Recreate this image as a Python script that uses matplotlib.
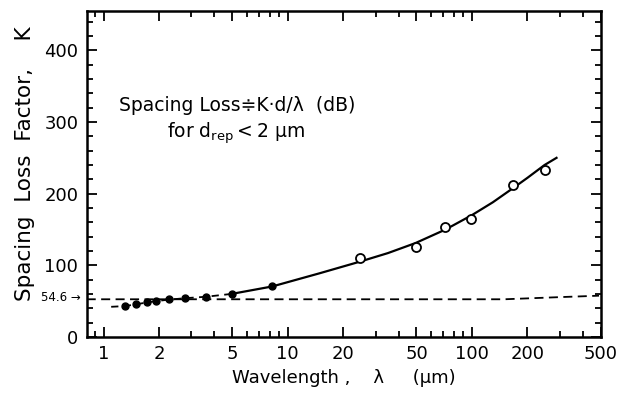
import numpy as np
import matplotlib
matplotlib.use("Agg")
import matplotlib.pyplot as plt
from matplotlib.ticker import LogLocator, NullFormatter, MultipleLocator

# measured points (filled = short wavelengths, open = long wavelengths)
lam_filled = [1.31, 1.50, 1.72, 1.93, 2.27, 2.77, 3.59, 4.96, 8.24]
k_filled = [43.0, 45.7, 48.1, 50.3, 52.3, 54.5, 55.5, 60.1, 70.4]
lam_open = [24.7, 49.4, 71.8, 99.3, 168, 248]
k_open = [109.5, 124.8, 153.6, 165.0, 212.5, 233.0]

# fitted curve
lam_fit_dash = [1.1, 1.31, 1.5, 1.72, 1.93, 2.27, 2.77, 3.59, 4.96]
k_fit_dash = [42.0, 43.0, 45.5, 48.0, 50.0, 52.0, 54.0, 56.0, 60.0]
lam_fit = [4.96, 8.24, 9.8, 14.8, 24.4, 35, 49.4, 72, 100, 130, 170, 200, 248, 288]
k_fit = [60.0, 70.4, 75.8, 88.6, 104.7, 117, 131, 150, 170, 188, 209, 222, 240, 250]

# reference level K = 54.6
lam_ref = [0.81, 150, 300, 490]
k_ref = [52.5, 52.5, 55.5, 57.5]

xticks = [1, 2, 5, 10, 20, 50, 100, 200, 500]
xlabels = ["1", "2", "5", "10", "20", "50", "100", "200", "500"]
yticks = [0, 100, 200, 300, 400]

plt.rcParams['font.family'] = ['DejaVu Sans']

fig = plt.figure(figsize=(6.26, 3.94), dpi=100)
ax = fig.add_axes([0.1385, 0.145, 0.821, 0.827])

ax.plot(lam_ref, k_ref, color='black', lw=1.3, ls=(0, (5, 3)))
ax.plot(lam_fit_dash, k_fit_dash, color='black', lw=1.3, ls=(0, (4, 3)))
ax.plot(lam_fit, k_fit, color='black', lw=1.6)
ax.plot(lam_filled, k_filled, 'o', color='black', ms=5)
ax.plot(lam_open, k_open, 'o', mfc='white', mec='black', mew=1.3, ms=6.5)

ax.set_xscale('log')
ax.set_xlim(0.81, 500)
ax.set_ylim(0, 455)
ax.set_xticks(xticks)
ax.set_xticklabels(xlabels)
ax.xaxis.set_minor_locator(LogLocator(base=10, subs=np.arange(2, 10)))
ax.xaxis.set_minor_formatter(NullFormatter())
ax.set_yticks(yticks)
ax.yaxis.set_minor_locator(MultipleLocator(20))

ax.tick_params(which='both', direction='in', top=True, right=True,
               labelsize=13, width=1.3)
ax.tick_params(which='major', length=7, pad=6)
ax.tick_params(which='minor', length=4)
for s in ax.spines.values():
    s.set_linewidth(1.8)

ax.text(-0.012, 54.6, "54.6 \u2192", transform=ax.get_yaxis_transform(),
        ha='right', va='center', fontsize=8.5)

ax.set_xlabel("Wavelength ,    \u03bb     (\u03bcm)", fontsize=13, labelpad=4)
ax.set_ylabel("Spacing  Loss  Factor,    K", fontsize=15.5)
ax.yaxis.set_label_coords(-0.1, 0.53)

ax.text(0.062, 0.71, "Spacing Loss\u2251K\u00b7d/\u03bb  (dB)",
        transform=ax.transAxes, fontsize=13.5, va='center')
ax.text(0.29, 0.625, "for $\\mathrm{d_{rep}}$$<$2 \u03bcm",
        transform=ax.transAxes, fontsize=13.5, va='center', ha='center')

fig.savefig("out.png", dpi=100)
